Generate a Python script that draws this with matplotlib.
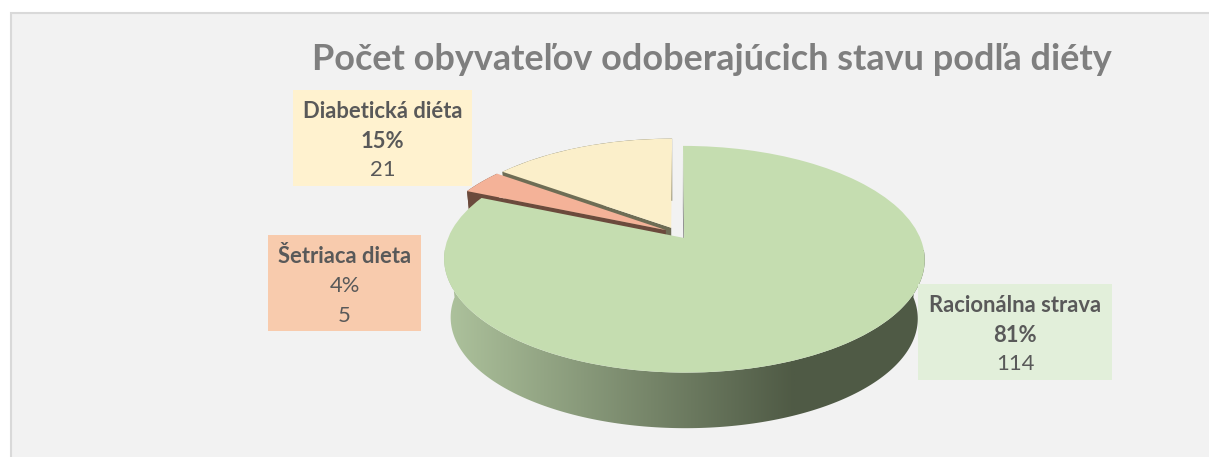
import numpy as np
import matplotlib
matplotlib.use('Agg')
import matplotlib.pyplot as plt
from matplotlib.colors import LinearSegmentedColormap
from matplotlib.patches import Polygon, Rectangle
from matplotlib.transforms import Transform

categories = ['Racionálna strava', 'Šetriaca dieta', 'Diabetická diéta']
values = [114, 5, 21]
percent_labels = ['81%', '4%', '15%']
percent_bold = [True, False, True]
top_colors = ['#C5DDB0', '#F4B298', '#FBEFCA']
box_colors = ['#E2EFDA', '#F8CBAD', '#FFF2CF']
wall_colors = [None, '#6B4A3C', '#6E6D55']
title = 'Počet obyvateľov odoberajúcich stavu podľa diéty'

plt.rcParams['font.family'] = ['Lato', 'DejaVu Sans']
BG = '#F2F2F2'
TEXT = '#595959'


class Tilt(Transform):
    # perspective view of the flat pie, level = 0 top face, 1 bottom face
    input_dims = 2
    output_dims = 2

    def __init__(self, level=0.0):
        super().__init__()
        self.level = level

    def transform_non_affine(self, values):
        x, y = np.asarray(values).T
        w = 1 + 0.186 * y
        s = 1 - 0.028 * self.level
        return np.column_stack([677 + 234 * s * x / w,
                                233 + 59.5 * self.level - 107.5 * s * y / w])


top = Tilt(0)
bottom = Tilt(1)


def rim(wedge, a1, a2):
    t = np.radians(np.linspace(a1, a2, 200))
    return np.column_stack([wedge.center[0] + np.cos(t), wedge.center[1] + np.sin(t)])


def cut(wedge, angle):
    a = np.radians(angle)
    return np.array([wedge.center, np.add(wedge.center, [np.cos(a), np.sin(a)])])


def wall(pts, color, z):
    poly = np.vstack([top.transform(pts), bottom.transform(pts)[::-1]])
    return ax.add_patch(Polygon(poly, closed=True, fc=color, ec='none', zorder=z))


fig = plt.figure(figsize=(12.09, 4.57), dpi=100)
ax = fig.add_axes([0, 0, 1, 1])

wedges, _ = ax.pie(values, explode=[0.055] * 3, startangle=90, counterclock=False,
                   colors=top_colors, radius=1, wedgeprops={'linewidth': 0})
ax.set_aspect('auto')
ax.set_frame_on(False)

green, orange, yellow = wedges
for w, z in zip(wedges, [12, 8, 4]):
    w.set_transform(top + ax.transData)
    w.set_zorder(z)
    w.set_clip_on(False)

# yellow and orange: rim and the cut face turned to the viewer
wall(rim(yellow, yellow.theta1, yellow.theta2), wall_colors[2], 2)
wall(cut(yellow, yellow.theta2), wall_colors[2], 3)
wall(rim(orange, orange.theta1, orange.theta2), wall_colors[1], 6)
wall(cut(orange, orange.theta2), wall_colors[1], 7)

# green rim with a left to right shade
wall(cut(green, green.theta2), '#8C8C8C', 9)
clip = wall(rim(green, -180, 0), 'none', 10)
shade = LinearSegmentedColormap.from_list('shade', ['#AFC49E', '#4F5A45'])
ramp = np.linspace(0, 1, 256)[None, :]
img = ax.imshow(ramp, cmap=shade, extent=[440, 795, 440, 250], aspect='auto', zorder=10)
img.set_clip_path(clip)
dark = ax.add_patch(Rectangle((795, 250), 135, 190, fc='#4F5A45', ec='none', zorder=10))
dark.set_clip_path(clip)

ax.set_xlim(0, 1209)
ax.set_ylim(457, 0)
ax.set_xticks([])
ax.set_yticks([])

ax.add_patch(Rectangle((11, 13), 1220, 460, fc=BG, ec='#D9D9D9', lw=1.5, zorder=0))

ax.text(711.5, 59, title, ha='center', va='center', fontsize=25.9, fontweight='bold', color='#7F7F7F', zorder=20)

boxes = [(918, 284, 194, 96), (268, 235, 153, 96), (293, 90, 179, 96)]
for i, (x, y, bw, bh) in enumerate(boxes):
    ax.add_patch(Rectangle((x, y), bw, bh, fc=box_colors[i], ec='none', zorder=15))
    cx = x + bw / 2
    ax.text(cx, y + 21.5, categories[i], ha='center', va='center', fontsize=15.8, fontweight='bold', color=TEXT, zorder=20)
    ax.text(cx, y + 51, percent_labels[i], ha='center', va='center', fontsize=15.8,
            fontweight='bold' if percent_bold[i] else 'normal', color=TEXT, zorder=20)
    ax.text(cx, y + 80.5, str(values[i]), ha='center', va='center', fontsize=15.8, color=TEXT, zorder=20)

fig.savefig('out.png', dpi=100, facecolor='white')
